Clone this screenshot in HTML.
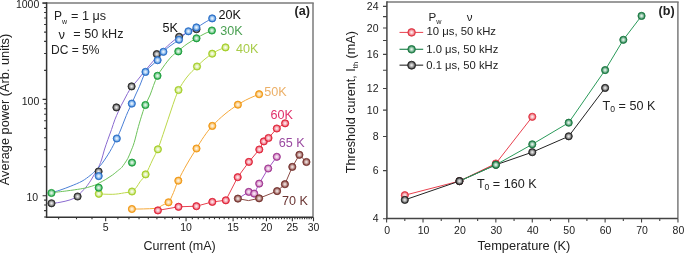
<!DOCTYPE html>
<html><head><meta charset="utf-8"><style>
html,body{margin:0;padding:0;background:#fff;}
body{width:685px;height:253px;overflow:hidden;font-family:"Liberation Sans",sans-serif;}
svg{display:block;}
</style></head><body>
<svg width="685" height="253" viewBox="0 0 685 253" style="will-change:transform">
<defs><radialGradient id="g_gray" cx="0.5" cy="0.5" r="0.5" fx="0.5" fy="0.5"><stop offset="0" stop-color="#f4f4f4"/><stop offset="0.3" stop-color="#cbcbcb"/><stop offset="0.68" stop-color="#808080"/><stop offset="0.9" stop-color="#303030"/><stop offset="1" stop-color="#303030"/></radialGradient><radialGradient id="g_blue" cx="0.5" cy="0.5" r="0.5" fx="0.5" fy="0.5"><stop offset="0" stop-color="#f4f9ff"/><stop offset="0.3" stop-color="#c9dff7"/><stop offset="0.68" stop-color="#78aee8"/><stop offset="0.9" stop-color="#2f72c8"/><stop offset="1" stop-color="#2f72c8"/></radialGradient><radialGradient id="g_green" cx="0.5" cy="0.5" r="0.5" fx="0.5" fy="0.5"><stop offset="0" stop-color="#f2fbf4"/><stop offset="0.3" stop-color="#c4e9ce"/><stop offset="0.68" stop-color="#70c888"/><stop offset="0.9" stop-color="#1fa040"/><stop offset="1" stop-color="#1fa040"/></radialGradient><radialGradient id="g_yg" cx="0.5" cy="0.5" r="0.5" fx="0.5" fy="0.5"><stop offset="0" stop-color="#fdfff6"/><stop offset="0.3" stop-color="#edf7d0"/><stop offset="0.68" stop-color="#cfe78a"/><stop offset="0.9" stop-color="#a6cf2c"/><stop offset="1" stop-color="#a6cf2c"/></radialGradient><radialGradient id="g_orange" cx="0.5" cy="0.5" r="0.5" fx="0.5" fy="0.5"><stop offset="0" stop-color="#fff8ec"/><stop offset="0.3" stop-color="#fde6c1"/><stop offset="0.68" stop-color="#f8c470"/><stop offset="0.9" stop-color="#f09a1a"/><stop offset="1" stop-color="#f09a1a"/></radialGradient><radialGradient id="g_red" cx="0.5" cy="0.5" r="0.5" fx="0.5" fy="0.5"><stop offset="0" stop-color="#fff2f4"/><stop offset="0.3" stop-color="#facad1"/><stop offset="0.68" stop-color="#f08090"/><stop offset="0.9" stop-color="#e0283c"/><stop offset="1" stop-color="#e0283c"/></radialGradient><radialGradient id="g_purple" cx="0.5" cy="0.5" r="0.5" fx="0.5" fy="0.5"><stop offset="0" stop-color="#fdf2fa"/><stop offset="0.3" stop-color="#efd1e8"/><stop offset="0.68" stop-color="#d493c6"/><stop offset="0.9" stop-color="#a23a94"/><stop offset="1" stop-color="#a23a94"/></radialGradient><radialGradient id="g_brown" cx="0.5" cy="0.5" r="0.5" fx="0.5" fy="0.5"><stop offset="0" stop-color="#f6ecea"/><stop offset="0.3" stop-color="#dbc2bf"/><stop offset="0.68" stop-color="#a87470"/><stop offset="0.9" stop-color="#783834"/><stop offset="1" stop-color="#783834"/></radialGradient><radialGradient id="g_rgreen" cx="0.5" cy="0.5" r="0.5" fx="0.5" fy="0.5"><stop offset="0" stop-color="#eef8f2"/><stop offset="0.3" stop-color="#bcdcca"/><stop offset="0.68" stop-color="#60a880"/><stop offset="0.9" stop-color="#1f7a45"/><stop offset="1" stop-color="#1f7a45"/></radialGradient><radialGradient id="g_rred" cx="0.5" cy="0.5" r="0.5" fx="0.5" fy="0.5"><stop offset="0" stop-color="#fff2f4"/><stop offset="0.3" stop-color="#facdd1"/><stop offset="0.68" stop-color="#f08890"/><stop offset="0.9" stop-color="#e03a48"/><stop offset="1" stop-color="#e03a48"/></radialGradient><radialGradient id="g_rgray" cx="0.5" cy="0.5" r="0.5" fx="0.5" fy="0.5"><stop offset="0" stop-color="#f0f0f0"/><stop offset="0.3" stop-color="#c7c7c7"/><stop offset="0.68" stop-color="#7a7a7a"/><stop offset="0.9" stop-color="#2a2a2a"/><stop offset="1" stop-color="#2a2a2a"/></radialGradient></defs>
<line x1="42.3" y1="3.0" x2="313.75" y2="3.0" stroke="#7a7a7a" stroke-width="1.5"/>
<line x1="313.0" y1="3.0" x2="313.0" y2="217.3" stroke="#7a7a7a" stroke-width="1.5"/>
<line x1="46.6" y1="2.25" x2="46.6" y2="218.05" stroke="#333" stroke-width="1.5"/>
<line x1="45.85" y1="217.3" x2="313.0" y2="217.3" stroke="#333" stroke-width="1.5"/>
<path d="M44.1 217.06H46.6 M44.1 210.62H46.6 M44.1 205.03H46.6 M44.1 200.11H46.6 M42.6 195.7H46.6 M44.1 166.71H46.6 M44.1 149.75H46.6 M44.1 137.72H46.6 M44.1 128.39H46.6 M44.1 120.76H46.6 M44.1 114.32H46.6 M44.1 108.73H46.6 M44.1 103.81H46.6 M42.6 99.4H46.6 M44.1 70.41H46.6 M44.1 53.45H46.6 M44.1 41.42H46.6 M44.1 32.09H46.6 M44.1 24.46H46.6 M44.1 18.02H46.6 M44.1 12.43H46.6 M44.1 7.51H46.6 M42.6 3.1H46.6 M58.62 217.3V219.3 M76.5 217.3V219.3 M91.99 217.3V219.3 M105.66 217.3V221.3 M117.88 217.3V219.3 M128.93 217.3V219.3 M139.03 217.3V219.3 M148.31 217.3V219.3 M156.91 217.3V219.3 M164.91 217.3V219.3 M172.4 217.3V219.3 M179.43 217.3V219.3 M186.06 217.3V221.3 M192.33 217.3V219.3 M198.28 217.3V219.3 M203.94 217.3V219.3 M209.34 217.3V219.3 M214.5 217.3V219.3 M219.43 217.3V219.3 M224.17 217.3V219.3 M228.72 217.3V219.3 M233.09 217.3V221.3 M237.31 217.3V219.3 M241.38 217.3V219.3 M245.32 217.3V219.3 M249.12 217.3V219.3 M252.8 217.3V219.3 M256.37 217.3V219.3 M259.84 217.3V219.3 M263.2 217.3V219.3 M266.47 217.3V221.3 M269.64 217.3V219.3 M272.74 217.3V219.3 M275.75 217.3V219.3 M278.69 217.3V219.3 M281.55 217.3V219.3 M284.35 217.3V219.3 M287.08 217.3V219.3 M289.74 217.3V219.3 M292.35 217.3V221.3 M294.9 217.3V219.3 M297.39 217.3V219.3 M299.84 217.3V219.3 M302.23 217.3V219.3 M304.57 217.3V219.3 M306.87 217.3V219.3 M309.12 217.3V219.3 M311.33 217.3V219.3 M313.5 217.3V221.3" stroke="#333" stroke-width="1.1" fill="none"/>
<g font-family="Liberation Sans, sans-serif" font-size="10.5" fill="#222" text-anchor="end">
<text x="39.3" y="7.9">1000</text>
<text x="39.3" y="104.6">100</text>
<text x="38.1" y="200.7">10</text>
</g>
<g font-family="Liberation Sans, sans-serif" font-size="10.5" fill="#222" text-anchor="middle">
<text x="105.66" y="231.4">5</text>
<text x="186.06" y="231.4">10</text>
<text x="233.09" y="231.4">15</text>
<text x="266.47" y="231.4">20</text>
<text x="292.35" y="231.4">25</text>
<text x="313.5" y="231.4">30</text>
</g>
<text font-family="Liberation Sans, sans-serif" font-size="12.4" fill="#222" x="143.5" y="250.3" textLength="72.3" lengthAdjust="spacingAndGlyphs">Current (mA)</text>
<text font-family="Liberation Sans, sans-serif" font-size="12.6" fill="#222" transform="translate(9.4 185.2) rotate(-90)" textLength="151.4" lengthAdjust="spacingAndGlyphs">Average power (Arb. units)</text>
<text font-family="Liberation Sans, sans-serif" font-size="12.6" font-weight="bold" fill="#222" x="294.5" y="15.4">(a)</text>
<g font-family="Liberation Sans, sans-serif" font-size="12" fill="#222">
<text x="54" y="20.2">P<tspan font-size="7" dy="3.5">w</tspan></text>
<text x="71" y="20.2" textLength="35" lengthAdjust="spacingAndGlyphs">= 1 μs</text>
<text x="58.6" y="39.1" font-size="13">ν</text>
<text x="73.3" y="38.4" textLength="50.2" lengthAdjust="spacingAndGlyphs">= 50 kHz</text>
<text x="51" y="53.6">DC = 5%</text>
</g>
<g fill="none" stroke-width="1">
<path d="M51.5 203.4 C52.92 203.22 56.92 202.88 60 202.3 C63.08 201.72 67.12 200.9 70 199.9 C72.88 198.9 75.58 197.43 77.3 196.3 C79.02 195.17 79.2 194.22 80.3 193.1 C81.4 191.98 82.72 190.88 83.9 189.6 C85.08 188.32 86.22 186.98 87.4 185.4 C88.58 183.82 89.82 181.97 91 180.1 C92.18 178.23 93.38 176.05 94.5 174.2 C95.62 172.35 96.53 171.37 97.7 169 C98.87 166.63 100.4 163.17 101.5 160 C102.6 156.83 103.23 153.42 104.3 150 C105.37 146.58 106.7 142.9 107.9 139.5 C109.1 136.1 110.35 132.88 111.5 129.6 C112.65 126.32 113.68 122.75 114.8 119.8 C115.92 116.85 117.17 114.23 118.2 111.9 C119.23 109.57 120.02 107.78 121 105.8 C121.98 103.82 123.02 102.05 124.1 100 C125.18 97.95 126.27 95.63 127.5 93.5 C128.73 91.37 129.82 89.45 131.5 87.2 C133.18 84.95 135.68 82.33 137.6 80 C139.52 77.67 141.1 75.53 143 73.2 C144.9 70.87 147 68.37 149 66 C151 63.63 153 61.28 155 59 C157 56.72 158.9 54.48 161 52.3 C163.1 50.12 165.6 47.75 167.6 45.9 C169.6 44.05 171.18 42.63 173 41.2 C174.82 39.77 176.17 38.7 178.5 37.3 C180.83 35.9 184.03 34.08 187 32.8 C189.97 31.52 194.75 30.13 196.3 29.6" stroke="#8a6ad0"/>
<path d="M51.5 192.7 C52.9 192.28 56.67 191.3 59.9 190.2 C63.13 189.1 67.22 187.6 70.9 186.1 C74.58 184.6 78.82 182.95 82 181.2 C85.18 179.45 87.85 177.27 90 175.6 C92.15 173.93 92.92 173.2 94.9 171.2 C96.88 169.2 99.42 166.85 101.9 163.6 C104.38 160.35 107.37 155.8 109.8 151.7 C112.23 147.6 114.7 142.62 116.5 139 C118.3 135.38 119.27 133.17 120.6 130 C121.93 126.83 123.27 123.08 124.5 120 C125.73 116.92 126.78 114.25 128 111.5 C129.22 108.75 130.55 106.25 131.8 103.5 C133.05 100.75 134.22 97.87 135.5 95 C136.78 92.13 137.85 90.1 139.5 86.3 C141.15 82.5 143.48 75.58 145.4 72.2 C147.32 68.82 148.97 68.02 151 66 C153.03 63.98 155.55 62.47 157.6 60.1 C159.65 57.73 161.23 54.15 163.3 51.8 C165.37 49.45 167.37 48.03 170 46 C172.63 43.97 176.08 42.02 179.1 39.6 C182.12 37.18 185.2 33.48 188.1 31.5 C191 29.52 193.85 29.12 196.5 27.7 C199.15 26.28 201.4 24.57 204 23 C206.6 21.43 210.75 19.08 212.1 18.3" stroke="#4a7fd6"/>
<path d="M51.5 192.7 C54.05 192.4 61.95 191.53 66.8 190.9 C71.65 190.27 77.13 189.48 80.6 188.9 C84.07 188.32 85.28 188 87.6 187.4 C89.92 186.8 92.6 186.02 94.5 185.3 C96.4 184.58 97.12 184.08 99 183.1 C100.88 182.12 103.55 180.75 105.8 179.4 C108.05 178.05 110.35 176.57 112.5 175 C114.65 173.43 117.18 171.23 118.7 170 C120.22 168.77 120.58 168.73 121.6 167.6 C122.62 166.47 123.75 164.75 124.8 163.2 C125.85 161.65 126.87 160.33 127.9 158.3 C128.93 156.27 129.95 153.63 131 151 C132.05 148.37 132.97 146.57 134.2 142.5 C135.43 138.43 137.07 131.35 138.4 126.6 C139.73 121.85 141.05 117.58 142.2 114 C143.35 110.42 143.98 108.27 145.3 105.1 C146.62 101.93 148.73 98.27 150.1 95 C151.47 91.73 152.27 88.7 153.5 85.5 C154.73 82.3 156 78.72 157.5 75.8 C159 72.88 160.82 70.45 162.5 68 C164.18 65.55 165.93 63.17 167.6 61.1 C169.27 59.03 170.8 57.23 172.5 55.6 C174.2 53.97 175.38 53.23 177.8 51.3 C180.22 49.37 183.88 46.18 187 44 C190.12 41.82 193.67 39.87 196.5 38.2 C199.33 36.53 201.47 35.28 204 34 C206.53 32.72 210.42 31.08 211.7 30.5" stroke="#6cc25a"/>
<path d="M98.8 193.8 C99.83 193.87 102.67 194.12 105 194.2 C107.33 194.28 110.55 194.37 112.8 194.3 C115.05 194.23 116.53 194.05 118.5 193.8 C120.47 193.55 122.35 193.18 124.6 192.8 C126.85 192.42 130.02 192.43 132 191.5 C133.98 190.57 135.17 188.82 136.5 187.2 C137.83 185.58 138.47 183.92 140 181.8 C141.53 179.68 143.62 178.13 145.7 174.5 C147.78 170.87 150.47 164.25 152.5 160 C154.53 155.75 156.15 153.25 157.9 149 C159.65 144.75 161.32 139.42 163 134.5 C164.68 129.58 166.33 124.5 168 119.5 C169.67 114.5 171.25 109.38 173 104.5 C174.75 99.62 176.17 94.78 178.5 90.2 C180.83 85.62 183.92 80.95 187 77 C190.08 73.05 194 69.5 197 66.5 C200 63.5 202.47 61.13 205 59 C207.53 56.87 210.03 55.15 212.2 53.7 C214.37 52.25 215.78 51.35 218 50.3 C220.22 49.25 224.25 47.88 225.5 47.4" stroke="#bcd84a"/>
<path d="M131.9 209 C133.25 209 137.48 209.03 140 209 C142.52 208.97 145 208.87 147 208.8 C149 208.73 150.18 208.75 152 208.6 C153.82 208.45 156.37 208.35 157.9 207.9 C159.43 207.45 160.1 206.5 161.2 205.9 C162.3 205.3 163.25 204.88 164.5 204.3 C165.75 203.72 167.2 204.37 168.7 202.4 C170.2 200.43 171.93 196.1 173.5 192.5 C175.07 188.9 175.85 185.55 178.1 180.8 C180.35 176.05 183.95 169.37 187 164 C190.05 158.63 193.57 153.18 196.4 148.6 C199.23 144.02 201.35 140.28 204 136.5 C206.65 132.72 208.8 129.65 212.3 125.9 C215.8 122.15 220.73 117.53 225 114 C229.27 110.47 234.07 107.2 237.9 104.7 C241.73 102.2 244.47 100.75 248 99 C251.53 97.25 257.25 95 259.1 94.2" stroke="#f5a83a"/>
<path d="M157.9 210.4 L178.5 206.8 L196.4 206.2 L212.3 201.9 L225.8 200.3 L237.7 177.2 L248.9 161.9 L259.3 149.5 L263.8 141.4 L268.5 138 L276.8 128.5 L285.1 123.3" stroke="#e8404e"/>
<path d="M237.9 198.6 L248.8 191.9 L254.2 193.6 L259.2 183.6 L268.2 168.5 L276.8 156.8" stroke="#a155c4"/>
<path d="M237.9 198.6 L248.5 200.6 L259.1 198.3 L277.1 191.1 L284.9 184.2 L292.3 166.9 L299.4 154.8 L306.4 162" stroke="#8a4a44"/>
</g>
<circle cx="51.5" cy="203.3" r="3.6" fill="url(#g_gray)" stroke="#303030" stroke-width="0.9"/>
<circle cx="77.6" cy="196.5" r="3.6" fill="url(#g_gray)" stroke="#303030" stroke-width="0.9"/>
<circle cx="98.6" cy="171.5" r="3.6" fill="url(#g_gray)" stroke="#303030" stroke-width="0.9"/>
<circle cx="116.4" cy="107.4" r="3.6" fill="url(#g_gray)" stroke="#303030" stroke-width="0.9"/>
<circle cx="131.6" cy="86.4" r="3.6" fill="url(#g_gray)" stroke="#303030" stroke-width="0.9"/>
<circle cx="156.8" cy="54.1" r="3.6" fill="url(#g_gray)" stroke="#303030" stroke-width="0.9"/>
<circle cx="179.1" cy="36.8" r="3.6" fill="url(#g_gray)" stroke="#303030" stroke-width="0.9"/>
<circle cx="196.5" cy="29.2" r="3.6" fill="url(#g_gray)" stroke="#303030" stroke-width="0.9"/>
<circle cx="98.8" cy="193.8" r="3.6" fill="url(#g_yg)" stroke="#a6cf2c" stroke-width="0.9"/>
<circle cx="132" cy="191.5" r="3.6" fill="url(#g_yg)" stroke="#a6cf2c" stroke-width="0.9"/>
<circle cx="145.6" cy="174.4" r="3.6" fill="url(#g_yg)" stroke="#a6cf2c" stroke-width="0.9"/>
<circle cx="157.9" cy="149.3" r="3.6" fill="url(#g_yg)" stroke="#a6cf2c" stroke-width="0.9"/>
<circle cx="178.5" cy="90" r="3.6" fill="url(#g_yg)" stroke="#a6cf2c" stroke-width="0.9"/>
<circle cx="197" cy="66.5" r="3.6" fill="url(#g_yg)" stroke="#a6cf2c" stroke-width="0.9"/>
<circle cx="212.2" cy="53.7" r="3.6" fill="url(#g_yg)" stroke="#a6cf2c" stroke-width="0.9"/>
<circle cx="225.5" cy="47.4" r="3.6" fill="url(#g_yg)" stroke="#a6cf2c" stroke-width="0.9"/>
<circle cx="98.7" cy="187.7" r="3.6" fill="url(#g_green)" stroke="#1fa040" stroke-width="0.9"/>
<circle cx="132" cy="162.6" r="3.6" fill="url(#g_green)" stroke="#1fa040" stroke-width="0.9"/>
<circle cx="145.4" cy="105" r="3.6" fill="url(#g_green)" stroke="#1fa040" stroke-width="0.9"/>
<circle cx="157.5" cy="75.8" r="3.6" fill="url(#g_green)" stroke="#1fa040" stroke-width="0.9"/>
<circle cx="178.3" cy="51.4" r="3.6" fill="url(#g_green)" stroke="#1fa040" stroke-width="0.9"/>
<circle cx="196.5" cy="38.3" r="3.6" fill="url(#g_green)" stroke="#1fa040" stroke-width="0.9"/>
<circle cx="211.9" cy="30.5" r="3.6" fill="url(#g_green)" stroke="#1fa040" stroke-width="0.9"/>
<circle cx="51.45" cy="193" r="3.6" fill="url(#g_green)" stroke="#1fa040" stroke-width="0.9"/>
<circle cx="98.7" cy="176.1" r="3.6" fill="url(#g_blue)" stroke="#2f72c8" stroke-width="0.9"/>
<circle cx="116.8" cy="138.5" r="3.6" fill="url(#g_blue)" stroke="#2f72c8" stroke-width="0.9"/>
<circle cx="131.8" cy="103.6" r="3.6" fill="url(#g_blue)" stroke="#2f72c8" stroke-width="0.9"/>
<circle cx="145.5" cy="71.9" r="3.6" fill="url(#g_blue)" stroke="#2f72c8" stroke-width="0.9"/>
<circle cx="157.6" cy="60.2" r="3.6" fill="url(#g_blue)" stroke="#2f72c8" stroke-width="0.9"/>
<circle cx="163.4" cy="51.8" r="3.6" fill="url(#g_blue)" stroke="#2f72c8" stroke-width="0.9"/>
<circle cx="179" cy="39.7" r="3.6" fill="url(#g_blue)" stroke="#2f72c8" stroke-width="0.9"/>
<circle cx="188.4" cy="31.3" r="3.6" fill="url(#g_blue)" stroke="#2f72c8" stroke-width="0.9"/>
<circle cx="196.4" cy="27.4" r="3.6" fill="url(#g_blue)" stroke="#2f72c8" stroke-width="0.9"/>
<circle cx="212.2" cy="18.4" r="3.6" fill="url(#g_blue)" stroke="#2f72c8" stroke-width="0.9"/>
<circle cx="131.9" cy="209" r="3.6" fill="url(#g_orange)" stroke="#f09a1a" stroke-width="0.9"/>
<circle cx="168.5" cy="202.3" r="3.6" fill="url(#g_orange)" stroke="#f09a1a" stroke-width="0.9"/>
<circle cx="178.3" cy="180.7" r="3.6" fill="url(#g_orange)" stroke="#f09a1a" stroke-width="0.9"/>
<circle cx="196.5" cy="148.5" r="3.6" fill="url(#g_orange)" stroke="#f09a1a" stroke-width="0.9"/>
<circle cx="212.3" cy="125.9" r="3.6" fill="url(#g_orange)" stroke="#f09a1a" stroke-width="0.9"/>
<circle cx="237.9" cy="104.7" r="3.6" fill="url(#g_orange)" stroke="#f09a1a" stroke-width="0.9"/>
<circle cx="259.1" cy="94.2" r="3.6" fill="url(#g_orange)" stroke="#f09a1a" stroke-width="0.9"/>
<circle cx="157.9" cy="210.4" r="3.6" fill="url(#g_red)" stroke="#e0283c" stroke-width="0.9"/>
<circle cx="178.5" cy="206.8" r="3.6" fill="url(#g_red)" stroke="#e0283c" stroke-width="0.9"/>
<circle cx="196.4" cy="206.2" r="3.6" fill="url(#g_red)" stroke="#e0283c" stroke-width="0.9"/>
<circle cx="212.3" cy="201.9" r="3.6" fill="url(#g_red)" stroke="#e0283c" stroke-width="0.9"/>
<circle cx="225.8" cy="200.3" r="3.6" fill="url(#g_red)" stroke="#e0283c" stroke-width="0.9"/>
<circle cx="237.7" cy="177.2" r="3.6" fill="url(#g_red)" stroke="#e0283c" stroke-width="0.9"/>
<circle cx="248.9" cy="161.9" r="3.6" fill="url(#g_red)" stroke="#e0283c" stroke-width="0.9"/>
<circle cx="259.3" cy="149.5" r="3.6" fill="url(#g_red)" stroke="#e0283c" stroke-width="0.9"/>
<circle cx="263.8" cy="141.4" r="3.6" fill="url(#g_red)" stroke="#e0283c" stroke-width="0.9"/>
<circle cx="268.5" cy="138" r="3.6" fill="url(#g_red)" stroke="#e0283c" stroke-width="0.9"/>
<circle cx="276.8" cy="128.5" r="3.6" fill="url(#g_red)" stroke="#e0283c" stroke-width="0.9"/>
<circle cx="285.1" cy="123.3" r="3.6" fill="url(#g_red)" stroke="#e0283c" stroke-width="0.9"/>
<circle cx="248.8" cy="191.9" r="3.6" fill="url(#g_purple)" stroke="#a23a94" stroke-width="0.9"/>
<circle cx="254.2" cy="193.6" r="3.6" fill="url(#g_purple)" stroke="#a23a94" stroke-width="0.9"/>
<circle cx="259.2" cy="183.6" r="3.6" fill="url(#g_purple)" stroke="#a23a94" stroke-width="0.9"/>
<circle cx="268.2" cy="168.5" r="3.6" fill="url(#g_purple)" stroke="#a23a94" stroke-width="0.9"/>
<circle cx="276.8" cy="156.8" r="3.6" fill="url(#g_purple)" stroke="#a23a94" stroke-width="0.9"/>
<circle cx="237.9" cy="198.6" r="3.6" fill="url(#g_brown)" stroke="#783834" stroke-width="0.9"/>
<circle cx="259.1" cy="198.3" r="3.6" fill="url(#g_brown)" stroke="#783834" stroke-width="0.9"/>
<circle cx="277.1" cy="191.1" r="3.6" fill="url(#g_brown)" stroke="#783834" stroke-width="0.9"/>
<circle cx="284.9" cy="184.2" r="3.6" fill="url(#g_brown)" stroke="#783834" stroke-width="0.9"/>
<circle cx="292.3" cy="166.9" r="3.6" fill="url(#g_brown)" stroke="#783834" stroke-width="0.9"/>
<circle cx="299.4" cy="154.8" r="3.6" fill="url(#g_brown)" stroke="#783834" stroke-width="0.9"/>
<circle cx="306.4" cy="162" r="3.6" fill="url(#g_brown)" stroke="#783834" stroke-width="0.9"/>
<g font-family="Liberation Sans, sans-serif" font-size="12.6">
<text x="162.6" y="31.9" fill="#111">5K</text>
<text x="218.4" y="19.3" fill="#111">20K</text>
<text x="220.2" y="35.3" fill="#4aa052">30K</text>
<text x="236" y="52.6" fill="#a8cc4a">40K</text>
<text x="264.3" y="95.9" fill="#ecb068">50K</text>
<text x="270.4" y="118.9" fill="#e0306a">60K</text>
<text x="278.8" y="147" fill="#9a4aa0">65 K</text>
<text x="282" y="204.9" fill="#6a3432">70 K</text>
</g>
<line x1="386.9" y1="2.0" x2="678.65" y2="2.0" stroke="#7a7a7a" stroke-width="1.5"/>
<line x1="677.9" y1="2.0" x2="677.9" y2="218.4" stroke="#7a7a7a" stroke-width="1.5"/>
<line x1="386.9" y1="1.25" x2="386.9" y2="219.15" stroke="#444" stroke-width="1.5"/>
<line x1="386.15" y1="218.4" x2="677.9" y2="218.4" stroke="#444" stroke-width="1.5"/>
<path d="M383 218.7H386.9 M383 170.64H386.9 M383 136.55H386.9 M383 110.1H386.9 M383 88.49H386.9 M383 70.22H386.9 M383 54.4H386.9 M383 40.44H386.9 M383 27.95H386.9 M383 16.65H386.9 M383 6.34H386.9 M386.6 218.4V222.6 M404.81 218.4V220.9 M423.02 218.4V222.6 M441.23 218.4V220.9 M459.44 218.4V222.6 M477.65 218.4V220.9 M495.86 218.4V222.6 M514.07 218.4V220.9 M532.28 218.4V222.6 M550.49 218.4V220.9 M568.7 218.4V222.6 M586.91 218.4V220.9 M605.12 218.4V222.6 M623.33 218.4V220.9 M641.54 218.4V222.6 M659.75 218.4V220.9 M677.96 218.4V222.6" stroke="#444" stroke-width="1.1" fill="none"/>
<g font-family="Liberation Sans, sans-serif" font-size="10.5" fill="#222" text-anchor="end">
<text x="378.5" y="222.3">4</text>
<text x="378.5" y="174.24">6</text>
<text x="378.5" y="140.15">8</text>
<text x="378.5" y="113.7">10</text>
<text x="378.5" y="92.09">12</text>
<text x="378.5" y="58">16</text>
<text x="378.5" y="31.55">20</text>
<text x="378.5" y="9.94">24</text>
</g>
<g font-family="Liberation Sans, sans-serif" font-size="10.5" fill="#222" text-anchor="middle">
<text x="387.1" y="233.6">0</text>
<text x="423.52" y="233.6">10</text>
<text x="459.94" y="233.6">20</text>
<text x="496.36" y="233.6">30</text>
<text x="532.78" y="233.6">40</text>
<text x="569.2" y="233.6">50</text>
<text x="605.62" y="233.6">60</text>
<text x="642.04" y="233.6">70</text>
<text x="678.46" y="233.6">80</text>
</g>
<text font-family="Liberation Sans, sans-serif" font-size="12.4" fill="#222" x="477.6" y="250.1" textLength="92.8" lengthAdjust="spacingAndGlyphs">Temperature (K)</text>
<text font-family="Liberation Sans, sans-serif" font-size="12.6" fill="#222" transform="translate(355.3 173.2) rotate(-90)">Threshold curent, I<tspan font-size="7.5" dy="2.5">th</tspan><tspan dy="-2.5"> (mA)</tspan></text>
<text font-family="Liberation Sans, sans-serif" font-size="12.6" font-weight="bold" fill="#222" x="658.5" y="15.4">(b)</text>
<g fill="none" stroke-width="1">
<path d="M404.81 195.2 L459.44 181.1 L495.86 163.5 L532.28 116.8" stroke="#e8404e"/>
<path d="M404.81 199.9 L459.44 181.1 L495.86 164.8 L532.28 152.2 L568.7 136.3 L605.12 87.9" stroke="#222"/>
<path d="M459.44 181.1 L495.86 164.8 L532.28 144.3 L568.7 122.7 L605.12 70.1 L623.33 39.8 L641.54 15.9" stroke="#2a9a5a"/>
</g>
<circle cx="404.81" cy="195.2" r="3.6" fill="url(#g_rred)" stroke="#e03a48" stroke-width="0.9"/>
<circle cx="459.44" cy="181.1" r="3.6" fill="url(#g_rred)" stroke="#e03a48" stroke-width="0.9"/>
<circle cx="495.86" cy="163.5" r="3.6" fill="url(#g_rred)" stroke="#e03a48" stroke-width="0.9"/>
<circle cx="532.28" cy="116.8" r="3.6" fill="url(#g_rred)" stroke="#e03a48" stroke-width="0.9"/>
<circle cx="404.81" cy="199.9" r="3.6" fill="url(#g_rgray)" stroke="#2a2a2a" stroke-width="0.9"/>
<circle cx="459.44" cy="181.1" r="3.6" fill="url(#g_rgray)" stroke="#2a2a2a" stroke-width="0.9"/>
<circle cx="495.86" cy="164.8" r="3.6" fill="url(#g_rgray)" stroke="#2a2a2a" stroke-width="0.9"/>
<circle cx="532.28" cy="152.2" r="3.6" fill="url(#g_rgray)" stroke="#2a2a2a" stroke-width="0.9"/>
<circle cx="568.7" cy="136.3" r="3.6" fill="url(#g_rgray)" stroke="#2a2a2a" stroke-width="0.9"/>
<circle cx="605.12" cy="87.9" r="3.6" fill="url(#g_rgray)" stroke="#2a2a2a" stroke-width="0.9"/>
<circle cx="495.86" cy="164.8" r="3.6" fill="url(#g_rgreen)" stroke="#1f7a45" stroke-width="0.9"/>
<circle cx="532.28" cy="144.3" r="3.6" fill="url(#g_rgreen)" stroke="#1f7a45" stroke-width="0.9"/>
<circle cx="568.7" cy="122.7" r="3.6" fill="url(#g_rgreen)" stroke="#1f7a45" stroke-width="0.9"/>
<circle cx="605.12" cy="70.1" r="3.6" fill="url(#g_rgreen)" stroke="#1f7a45" stroke-width="0.9"/>
<circle cx="623.33" cy="39.8" r="3.6" fill="url(#g_rgreen)" stroke="#1f7a45" stroke-width="0.9"/>
<circle cx="641.54" cy="15.9" r="3.6" fill="url(#g_rgreen)" stroke="#1f7a45" stroke-width="0.9"/>
<circle cx="459.44" cy="181.1" r="3.6" fill="url(#g_rgray)" stroke="#2a2a2a" stroke-width="0.9"/>
<g font-family="Liberation Sans, sans-serif" font-size="11.6" fill="#222">
<text x="428.6" y="20.6">P<tspan font-size="7.2" dy="3">w</tspan></text>
<text x="466.7" y="20.6">ν</text>
<text x="426.5" y="35.3" textLength="69.5" lengthAdjust="spacingAndGlyphs">10 μs, 50 kHz</text>
<text x="426.3" y="52.5" textLength="72" lengthAdjust="spacingAndGlyphs">1.0 μs, 50 kHz</text>
<text x="426.3" y="68.5" textLength="72" lengthAdjust="spacingAndGlyphs">0.1 μs, 50 kHz</text>
</g>
<line x1="399.5" y1="32.4" x2="423.2" y2="32.4" stroke="#e8404e" stroke-width="1"/>
<line x1="399.5" y1="49.3" x2="423.2" y2="49.3" stroke="#2a8a55" stroke-width="1.2"/>
<line x1="399.5" y1="65.2" x2="423.2" y2="65.2" stroke="#555" stroke-width="1.4"/>
<circle cx="411.6" cy="32.4" r="3.8" fill="url(#g_rred)" stroke="#e03a48" stroke-width="0.9"/>
<circle cx="411.6" cy="49.3" r="3.8" fill="url(#g_rgreen)" stroke="#1f7a45" stroke-width="0.9"/>
<circle cx="411.6" cy="65.2" r="4" fill="url(#g_rgray)" stroke="#2a2a2a" stroke-width="0.9"/>
<g font-family="Liberation Sans, sans-serif" font-size="12.6" fill="#222">
<text x="602.6" y="110.1">T<tspan font-size="8.6" dy="2.2">0</tspan><tspan dy="-2.2"> = 50 K</tspan></text>
<text x="476.9" y="188">T<tspan font-size="8.6" dy="2.2">0</tspan><tspan dy="-2.2"> = 160 K</tspan></text>
</g>
</svg>
</body></html>
